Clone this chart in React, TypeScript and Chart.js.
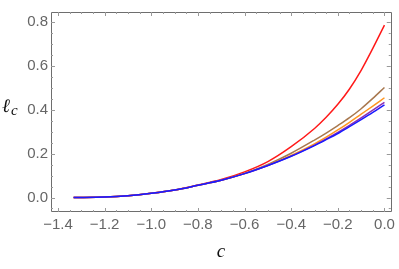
import React, { useEffect, useRef } from "react";
import { Chart, registerables } from "chart.js";

Chart.register(...registerables);

const cValues = [-1.333, -1.2, -1.1, -1.0, -0.9, -0.8, -0.7, -0.6, -0.5, -0.4, -0.3, -0.25, -0.2, -0.15, -0.1, -0.05, 0.0];
const redSeries = [0.0, 0.002, 0.008, 0.019, 0.034, 0.057, 0.082, 0.117, 0.164, 0.232, 0.315, 0.366, 0.425, 0.495, 0.58, 0.68, 0.786];
const brownSeries = [0.0, 0.002, 0.008, 0.019, 0.034, 0.056, 0.079, 0.110, 0.151, 0.202, 0.262, 0.294, 0.328, 0.364, 0.405, 0.452, 0.502];
const orangeSeries = [0.0, 0.002, 0.008, 0.019, 0.034, 0.056, 0.079, 0.109, 0.147, 0.192, 0.245, 0.275, 0.308, 0.343, 0.38, 0.417, 0.455];
const purpleSeries = [0.0, 0.002, 0.008, 0.019, 0.034, 0.056, 0.079, 0.109, 0.146, 0.189, 0.239, 0.267, 0.297, 0.329, 0.363, 0.398, 0.434];
const blueSeries = [0.0, 0.002, 0.008, 0.019, 0.034, 0.056, 0.079, 0.109, 0.146, 0.188, 0.237, 0.264, 0.292, 0.323, 0.355, 0.388, 0.423];

const xTickValues = [-1.4, -1.2, -1.0, -0.8, -0.6, -0.4, -0.2, 0.0];
const yTickValues = [0.0, 0.2, 0.4, 0.6, 0.8];
const xRange = [-1.43, 0.027];
const yRange = [-0.066, 0.846];
const minorStep = 0.05;

const fmt = (v: number) => {
  const s = Math.abs(v).toFixed(1);
  return v < -1e-9 ? "\u2212" + s : s;
};

const frameColor = "#6e6e6e";

const framePlugin = {
  id: "frameTicks",
  afterDatasetsDraw(chart: any) {
    const { ctx, chartArea: a, scales } = chart;
    const xs = scales.x;
    const ys = scales.y;
    ctx.save();
    ctx.strokeStyle = frameColor;
    ctx.lineWidth = 1;
    ctx.beginPath();
    ctx.rect(Math.round(a.left) + 0.5, Math.round(a.top) + 0.5, Math.round(a.right - a.left), Math.round(a.bottom - a.top) - 1);
    ctx.stroke();
    ctx.strokeStyle = "#999";
    ctx.beginPath();
    const isMajor = (v: number) => Math.abs(v / 0.2 - Math.round(v / 0.2)) < 1e-6;
    const x0 = Math.ceil(xRange[0] / minorStep) * minorStep;
    for (let v = x0; v <= xRange[1] + 1e-9; v += minorStep) {
      const vv = Math.round(v * 100) / 100;
      const px = Math.round(xs.getPixelForValue(vv)) + 0.5;
      const len = isMajor(vv) ? 4 : 2;
      ctx.moveTo(px, a.bottom);
      ctx.lineTo(px, a.bottom - len);
      ctx.moveTo(px, a.top);
      ctx.lineTo(px, a.top + len);
    }
    const y0 = Math.ceil(yRange[0] / minorStep) * minorStep;
    for (let v = y0; v <= yRange[1] + 1e-9; v += minorStep) {
      const vv = Math.round(v * 100) / 100;
      const py = Math.round(ys.getPixelForValue(vv)) + 0.5;
      const len = isMajor(vv) ? 4 : 2;
      ctx.moveTo(a.left, py);
      ctx.lineTo(a.left + len, py);
      ctx.moveTo(a.right, py);
      ctx.lineTo(a.right - len, py);
    }
    ctx.stroke();

    ctx.fillStyle = "#111";
    ctx.textBaseline = "alphabetic";
    ctx.textAlign = "center";
    ctx.font = "italic 19px 'Liberation Serif', 'DejaVu Serif', serif";
    ctx.fillText("c", (a.left + a.right) / 2, 257);
    ctx.textAlign = "left";
    ctx.font = "italic 19px 'DejaVu Serif', 'Liberation Serif', serif";
    ctx.fillText("\u2113", 2, 112);
    ctx.font = "italic 15px 'Liberation Serif', 'DejaVu Serif', serif";
    ctx.fillText("c", 11, 115);
    ctx.restore();
  },
};

export default function App() {
  const ref = useRef<HTMLCanvasElement | null>(null);
  useEffect(() => {
    if (!ref.current) return;
    const mk = (label: string, ys: number[], color: string) => ({
      label,
      data: cValues.map((x, i) => ({ x, y: ys[i] })),
      borderColor: color,
      backgroundColor: color,
      borderWidth: 1.5,
      pointRadius: 0,
      fill: false,
      cubicInterpolationMode: "monotone" as const,
    });
    const tickFont = { family: "'Liberation Sans', Arial, sans-serif", size: 15 };
    const chart = new Chart(ref.current, {
      type: "line",
      data: {
        datasets: [
          mk("blue", blueSeries, "#1a1aff"),
          mk("purple", purpleSeries, "#8c2fb4"),
          mk("orange", orangeSeries, "#ff9520"),
          mk("brown", brownSeries, "#a8784f"),
          mk("red", redSeries, "#ff1a1a"),
        ],
      },
      options: {
        responsive: false,
        animation: false,
        layout: { padding: { left: 0, right: 6, top: 1, bottom: 0 } },
        plugins: { legend: { display: false }, tooltip: { enabled: false } },
        scales: {
          x: {
            type: "linear",
            min: xRange[0],
            max: xRange[1],
            grid: { display: false, drawTicks: false },
            border: { display: false },
            afterBuildTicks: (s: any) => {
              s.ticks = xTickValues.map((v) => ({ value: v }));
            },
            afterFit: (s: any) => {
              s.height = 57;
            },
            ticks: {
              autoSkip: false,
              maxRotation: 0,
              padding: 4,
              color: "#666",
              font: tickFont,
              callback: (v: any) => fmt(Number(v)),
            },
          },
          y: {
            type: "linear",
            min: yRange[0],
            max: yRange[1],
            grid: { display: false, drawTicks: false },
            border: { display: false },
            afterBuildTicks: (s: any) => {
              s.ticks = yTickValues.map((v) => ({ value: v }));
            },
            afterFit: (s: any) => {
              s.width = 51;
            },
            ticks: {
              autoSkip: false,
              padding: 3,
              color: "#666",
              font: tickFont,
              callback: (v: any) => fmt(Number(v)),
            },
          },
        },
      },
      plugins: [framePlugin],
    });
    return () => chart.destroy();
  }, []);
  return (
    <div style={{ position: "fixed", left: 0, top: 0, width: 399, height: 269, background: "#fff" }}>
      <canvas ref={ref} width={399} height={269} style={{ width: 399, height: 269 }} />
    </div>
  );
}
